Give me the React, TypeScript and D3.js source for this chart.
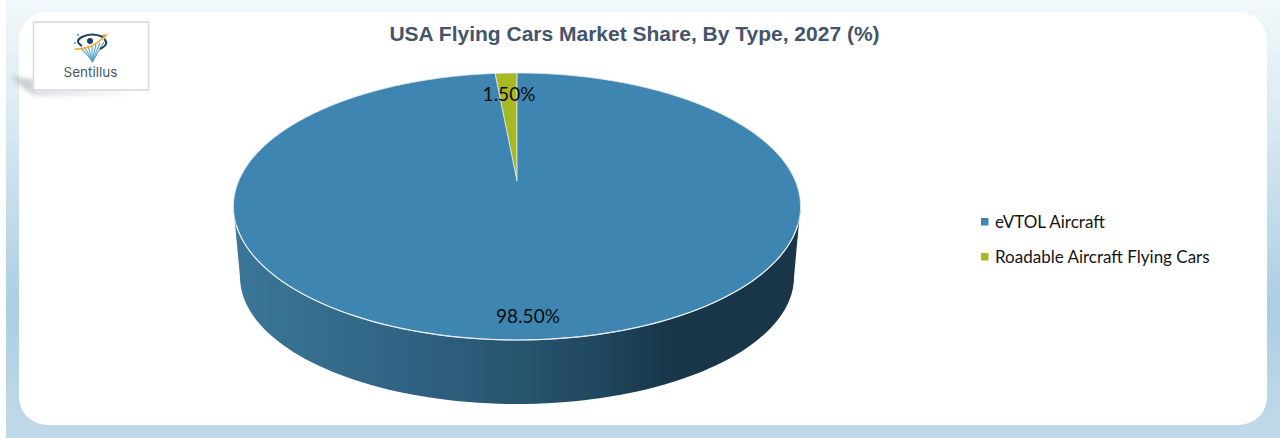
import React from "react";
import * as d3 from "d3";

const title = "USA Flying Cars Market Share, By Type, 2027 (%)";
const categories = ["Roadable Aircraft Flying Cars", "eVTOL Aircraft"];
const shares = [1.5, 98.5];
const shareLabels = ["1.50%", "98.50%"];
const legendOrder = ["eVTOL Aircraft", "Roadable Aircraft Flying Cars"];
const colors = ["#a8b820", "#3f85b1"];
const sideStops: [number, string][] = [
  [0, "#3a7698"], [0.12, "#366f8f"], [0.3, "#2f6383"], [0.5, "#28556f"],
  [0.66, "#1f455b"], [0.78, "#193649"], [1, "#193649"],
];

const W = 1280, H = 438;
const cx = 517;
// Perspective projection of the unit disc on the tilted top face
const persp = -0.191, A = 94.06, apexY = 181, R = 278.3;
const project = (u: number, v: number): [number, number] => {
  const d = 1 + persp * v;
  return [cx + (R * u) / d, (A * v + apexY) / d];
};
const rim = (a: number) => project(Math.sin(a), -Math.cos(a));

const pieGen = d3.pie<number>().sort(null).startAngle(-(shares[0] / 100) * 2 * Math.PI).endAngle(2 * Math.PI - (shares[0] / 100) * 2 * Math.PI);
const arcs = pieGen(shares);
const line = d3.line();

function slicePath(a0: number, a1: number) {
  const n = Math.max(4, Math.ceil((a1 - a0) * 60));
  const pts = d3.range(n + 1).map((i) => rim(a0 + ((a1 - a0) * i) / n));
  return line([project(0, 0), ...pts]) + "Z";
}

const topEllipse = { cy: 206.5, rx: 283.5, ry: 133.5 };
const bottomEllipse = { cy: 277, rx: 277, ry: 127 };
const sideArc = d3.range(0, 181, 2).map((d) => {
  const t = (d * Math.PI) / 180;
  return [cx + bottomEllipse.rx * Math.cos(t), bottomEllipse.cy + bottomEllipse.ry * Math.sin(t)] as [number, number];
});
const topFront = d3.range(180, -1, -2).map((d) => {
  const t = (d * Math.PI) / 180;
  return [cx + topEllipse.rx * Math.cos(t), topEllipse.cy + topEllipse.ry * Math.sin(t)] as [number, number];
});
const sidePath = line([...sideArc, ...topFront]) + "Z";
const frontRim = d3.range(172, 7, -2).map((d) => {
  const t = (d * Math.PI) / 180;
  return [cx + topEllipse.rx * Math.cos(t), topEllipse.cy + topEllipse.ry * Math.sin(t)] as [number, number];
});

const legendY = d3.scalePoint<string>().domain(legendOrder).range([222, 257]);
const legendColor = d3.scaleOrdinal<string, string>().domain(categories).range(colors);
const font = "Lato, 'Noto Sans', sans-serif";

function Logo() {
  const fan = [80, 84, 88, 92, 96, 100, 104];
  return (
    <g>
      <g stroke="#4b97c4" strokeWidth={1.1} fill="none" opacity={0.9}>
        {fan.map((s) => (
          <path key={s} d={`M${s} ${48 - (s - 80) * 0.25} Q${(s + 92) / 2} 52 92.5 62`} />
        ))}
      </g>
      <path d="M75 49 Q92 50 105 36" fill="none" stroke="#f0ae35" strokeWidth={1.8} />
      <path d="M102 34.5 L107 34 L105.5 39Z" fill="#f0ae35" />
      <path d="M82 46 Q74 41 82 37 Q92 32 103 37" fill="none" stroke="#1e3f5c" strokeWidth={2} />
      <path d="M100 49 Q110 44 104 39" fill="none" stroke="#1e3f5c" strokeWidth={2} />
      <circle cx={90} cy={41} r={3} fill="#1e3f5c" />
      <circle cx={78} cy={35} r={1} fill="#4b97c4" />
      <circle cx={75} cy={43} r={1} fill="#4b97c4" />
      <text x={90.5} y={76.5} textAnchor="middle" fontFamily="Inter, 'Open Sans', sans-serif" fontSize={13.5} fill="#46586b">Sentillus</text>
    </g>
  );
}

export default function App() {
  return (
    <svg width={W} height={H} viewBox={`0 0 ${W} ${H}`} style={{ position: "fixed", left: 0, top: 0, display: "block" }}>
      <defs>
        <linearGradient id="bg" x1="0" y1="0" x2="0" y2="1">
          <stop offset="0" stopColor="#f2f8fb" />
          <stop offset="0.25" stopColor="#dcebf3" />
          <stop offset="0.7" stopColor="#abcee2" />
          <stop offset="1" stopColor="#c2dae9" />
        </linearGradient>
        <linearGradient id="side" gradientUnits="userSpaceOnUse" x1={238} x2={797} y1={0} y2={0}>
          {sideStops.map(([o, c]) => <stop key={o} offset={o} stopColor={c} />)}
        </linearGradient>
        <filter id="blur" x="-30%" y="-30%" width="160%" height="160%"><feGaussianBlur stdDeviation="2.5" /></filter>
      </defs>
      <rect width={W} height={H} fill="#ffffff" />
      <rect x={6} y={0} width={W - 6} height={H} fill="url(#bg)" />
      <rect x={19} y={12} width={1248} height={413} rx={28} fill="#ffffff" />
      <path d="M10 76 L34 80 L34 91 L140 93 L34 95 Q22 88 10 76Z" fill="#9aa3a8" opacity={0.55} filter="url(#blur)" />
      <rect x={33.5} y={22} width={115} height={68} fill="#ffffff" stroke="#d3d9dd" strokeWidth={1.5} />
      <Logo />

      <text x={634.5} y={40.5} textAnchor="middle" fontFamily="'Liberation Sans', Arial, sans-serif" fontWeight={700} fontSize={21} fill="#44546a">{title}</text>

      <path d={sidePath} fill="url(#side)" />
      {arcs.map((d, i) => (
        <path key={categories[i]} d={slicePath(d.startAngle, d.endAngle)} fill={colors[i]} stroke="#dfeaf0" strokeWidth={0.8} strokeLinejoin="round" />
      ))}
      <path d={line(frontRim) ?? ""} fill="none" stroke="#e6eef2" strokeWidth={1.2} />

      <text x={509} y={100.5} textAnchor="middle" fontFamily={font} fontSize={19} fill="#0b0b0b">{shareLabels[0]}</text>
      <text x={528} y={323} textAnchor="middle" fontFamily={font} fontSize={19} fill="#0b0b0b">{shareLabels[1]}</text>

      {legendOrder.map((name) => (
        <g key={name}>
          <rect x={981} y={(legendY(name) as number) - 4} width={7.5} height={7.5} fill={legendColor(name)} />
          <text x={995} y={(legendY(name) as number) + 6} fontFamily={font} fontSize={17} fill="#141414">{name}</text>
        </g>
      ))}
    </svg>
  );
}
